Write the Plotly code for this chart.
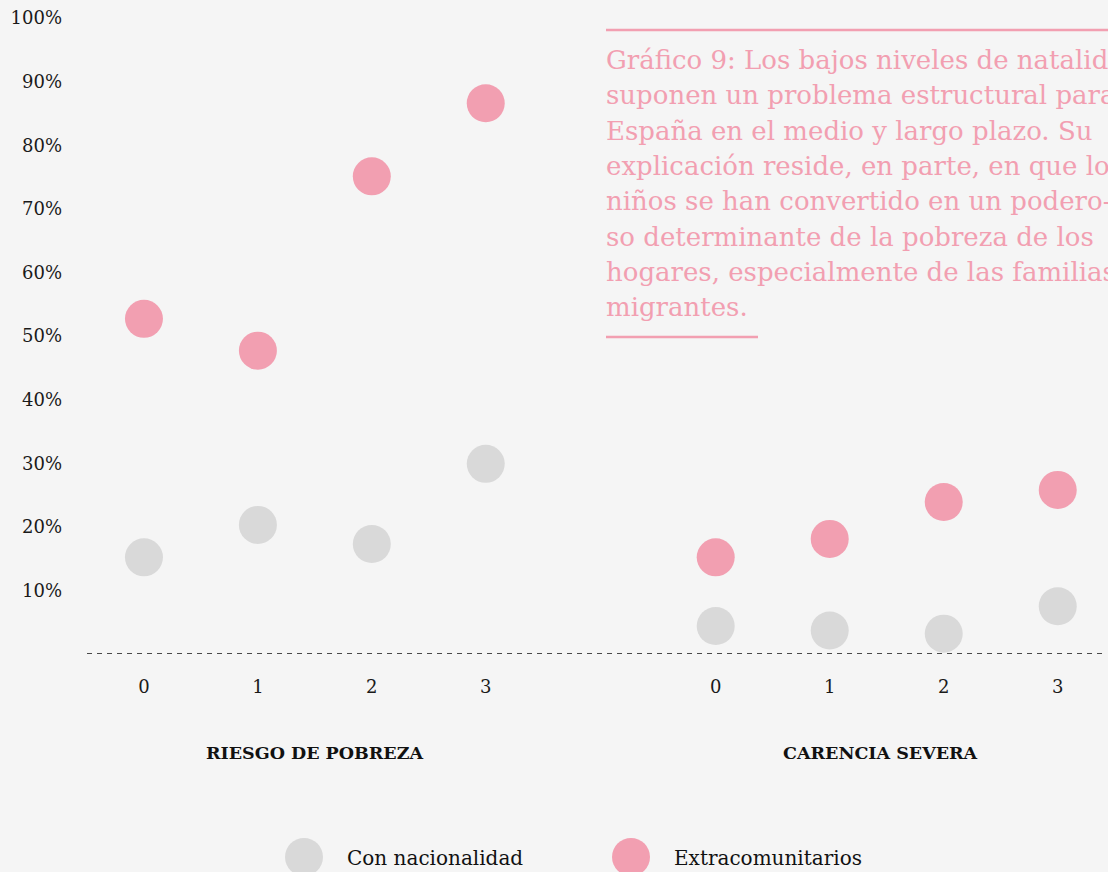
import plotly.graph_objects as go
from plotly.subplots import make_subplots

# Datos (porcentaje de hogares) según número de hijos
HIJOS = ["0", "1", "2", "3"]
RIESGO_NACIONAL = [15.2, 20.3, 17.3, 29.9]
RIESGO_EXTRA = [52.7, 47.7, 75.1, 86.6]
CARENCIA_NACIONAL = [4.4, 3.7, 3.2, 7.5]
CARENCIA_EXTRA = [15.2, 18.1, 23.9, 25.8]

PANELES = ["RIESGO DE POBREZA", "CARENCIA SEVERA"]
SERIES = ["Con nacionalidad", "Extracomunitarios"]
Y_TICKS = [10, 20, 30, 40, 50, 60, 70, 80, 90, 100]
Y_LABELS = [f"{v}%" for v in Y_TICKS]

CAPTION = [
    "Gráfico 9: Los bajos niveles de natalidad",
    "suponen un problema estructural para",
    "España en el medio y largo plazo. Su",
    "explicación reside, en parte, en que los",
    "niños se han convertido en un podero-",
    "so determinante de la pobreza de los",
    "hogares, especialmente de las familias",
    "migrantes.",
]

GRIS = "#D9D9D9"
ROSA = "#F29FB1"
FONDO = "#F5F5F5"
FUENTE = "DejaVu Serif"

# geometría en píxeles
W, H = 1108, 872
ML, MR, MT, MB = 87, 5, 18, 218
PW = W - ML - MR
PH = H - MT - MB


def px_x(p):
    return (p - ML) / PW


def px_y(p):
    return (H - MB - p) / PH


fig = make_subplots(rows=1, cols=2, shared_yaxes=True)

paneles = [(RIESGO_NACIONAL, RIESGO_EXTRA), (CARENCIA_NACIONAL, CARENCIA_EXTRA)]
for i, (nac, ext) in enumerate(paneles, start=1):
    for nombre, vals, color in [(SERIES[0], nac, GRIS), (SERIES[1], ext, ROSA)]:
        fig.add_trace(
            go.Scatter(
                x=HIJOS, y=vals, mode="markers", name=nombre,
                marker=dict(size=38, color=color, line=dict(width=0)),
                showlegend=False, cliponaxis=False,
                hovertemplate="%{y:.1f}%<extra>" + nombre + "</extra>",
            ),
            row=1, col=i,
        )

fig.update_layout(
    width=W, height=H,
    margin=dict(l=ML, r=MR, t=MT, b=MB),
    paper_bgcolor=FONDO, plot_bgcolor=FONDO,
    font=dict(family=FUENTE, color="#222222", size=17),
    xaxis=dict(domain=[0, px_x(542.7)], range=[-0.5, 3.5]),
    xaxis2=dict(domain=[px_x(658.7), 1], range=[-0.5, 3.397]),
    yaxis=dict(range=[0, 100], tickmode="array", tickvals=Y_TICKS, ticktext=Y_LABELS,
               showgrid=False, zeroline=False, showline=False,
               ticklabelstandoff=24, tickfont=dict(size=18, color="#1a1a1a")),
    yaxis2=dict(range=[0, 100], showgrid=False, zeroline=False,
                showticklabels=False),
)
fig.update_xaxes(type="category", showgrid=False, zeroline=False, showline=False,
                 ticks="", ticklabelstandoff=20, tickfont=dict(size=18, color="#1a1a1a"))

# línea base discontinua
fig.add_shape(type="line", xref="paper", yref="y", x0=0, x1=1, y0=0, y1=0,
              line=dict(color="#111111", width=1.5, dash="5px,5px"))

# títulos de panel
for i, titulo in enumerate(PANELES):
    xr = "x domain" if i == 0 else "x2 domain"
    fig.add_annotation(text="<b>" + titulo + "</b>", xref=xr, yref="paper",
                       x=0.5, y=px_y(753), yanchor="middle", showarrow=False,
                       font=dict(size=17.5, color="#111111"))

# leyenda
for cx, nombre, color in [(304, SERIES[0], GRIS), (631, SERIES[1], ROSA)]:
    fig.add_shape(type="circle", xref="paper", yref="paper",
                  x0=px_x(cx - 19), x1=px_x(cx + 19),
                  y0=px_y(857 + 19), y1=px_y(857 - 19),
                  fillcolor=color, line=dict(width=0))
    fig.add_annotation(text=nombre, xref="paper", yref="paper",
                       x=px_x(cx + 41), y=px_y(858), xanchor="left", yanchor="middle",
                       showarrow=False, font=dict(size=20, color="#111111"))

# texto del gráfico
fig.add_shape(type="line", xref="paper", yref="paper",
              x0=px_x(606), x1=px_x(1120), y0=px_y(30), y1=px_y(30),
              line=dict(color=ROSA, width=2.5))
for k, linea in enumerate(CAPTION):
    fig.add_annotation(text=linea, xref="paper", yref="paper",
                       x=px_x(604), y=px_y(60 + k * 35.3),
                       xanchor="left", yanchor="middle", showarrow=False,
                       font=dict(size=26, color=ROSA))
fig.add_shape(type="line", xref="paper", yref="paper",
              x0=px_x(606), x1=px_x(758), y0=px_y(337), y1=px_y(337),
              line=dict(color=ROSA, width=2.5))

fig.write_html(
    "out.html",
    config={"displayModeBar": False},
    post_script="document.body.style.margin='0';document.body.style.overflow='hidden';",
)
